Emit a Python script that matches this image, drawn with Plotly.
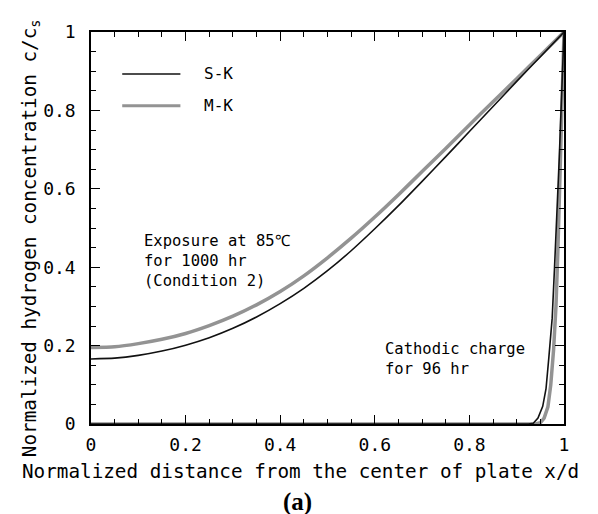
import plotly.graph_objects as go

# Exposure at 85C for 1000 hr (Condition 2)
x_exp = [0.0, 0.05, 0.1, 0.15, 0.2, 0.25, 0.3, 0.35, 0.4, 0.45, 0.5,
         0.55, 0.6, 0.65, 0.7, 0.75, 0.8, 0.85, 0.9, 0.95, 1.0]
sk_exp = [0.166, 0.168, 0.175, 0.186, 0.201, 0.220, 0.244, 0.273, 0.307, 0.346, 0.391,
          0.442, 0.498, 0.557, 0.619, 0.682, 0.746, 0.810, 0.874, 0.937, 1.0]
mk_exp = [0.195, 0.197, 0.205, 0.216, 0.231, 0.251, 0.275, 0.304, 0.338, 0.378, 0.424,
          0.474, 0.528, 0.585, 0.644, 0.703, 0.763, 0.822, 0.881, 0.940, 1.0]

# Cathodic charge for 96 hr
x_cat_sk = [0.0, 0.925, 0.935, 0.945, 0.955, 0.962, 0.968, 0.975, 0.980, 0.986, 0.990, 0.995, 1.0]
sk_cat = [0.0, 0.0, 0.002, 0.015, 0.045, 0.090, 0.170, 0.270, 0.400, 0.550, 0.680, 0.840, 1.0]
x_cat_mk = [0.0, 0.940, 0.950, 0.958, 0.966, 0.972, 0.978, 0.983, 0.987, 0.991, 0.995, 1.0]
mk_cat = [0.0, 0.0, 0.003, 0.015, 0.044, 0.100, 0.190, 0.300, 0.440, 0.600, 0.780, 1.0]

series_names = ["S-K", "M-K"]
x_ticks = [0, 0.2, 0.4, 0.6, 0.8, 1]
x_tick_labels = ["0", "0.2", "0.4", "0.6", "0.8", "1"]
y_ticks = [0, 0.2, 0.4, 0.6, 0.8, 1]
y_tick_labels = ["0", "0.2", "0.4", "0.6", "0.8", "1"]

SK_COLOR = "#111111"
MK_COLOR = "#939393"
MONO = "DejaVu Sans Mono"

fig = go.Figure()
fig.add_trace(go.Scatter(x=x_exp, y=mk_exp, mode="lines", name=series_names[1],
                         line=dict(color=MK_COLOR, width=3.5, shape="spline", smoothing=0.6),
                         showlegend=False))
fig.add_trace(go.Scatter(x=x_cat_mk, y=mk_cat, mode="lines", name=series_names[1],
                         line=dict(color=MK_COLOR, width=3.5), showlegend=False))
fig.add_trace(go.Scatter(x=x_exp, y=sk_exp, mode="lines", name=series_names[0],
                         line=dict(color=SK_COLOR, width=1.6, shape="spline", smoothing=0.6),
                         showlegend=False))
fig.add_trace(go.Scatter(x=x_cat_sk, y=sk_cat, mode="lines", name=series_names[0],
                         line=dict(color=SK_COLOR, width=1.6), showlegend=False))

axis_common = dict(
    showgrid=False, zeroline=False, showline=True, linecolor="black", linewidth=1.5,
    mirror="ticks", ticks="inside", ticklen=9, tickwidth=1.3, tickcolor="black",
    minor=dict(dtick=0.05, tick0=0, ticks="inside", ticklen=5, tickwidth=1, tickcolor="black"),
    tickfont=dict(family=MONO, size=18, color="black"),
)

fig.update_xaxes(range=[0, 1], tickvals=x_ticks, ticktext=x_tick_labels,
                 ticklabelstandoff=4, **axis_common)
fig.update_yaxes(range=[0, 1], tickvals=y_ticks, ticktext=y_tick_labels,
                 ticklabelstandoff=10, **axis_common)

# Axis titles as annotations (centred like the reference)
fig.add_annotation(text="Normalized distance from the center of plate x/d", xref="paper", yref="paper",
                   x=0.442, y=-0.122, xanchor="center", yanchor="middle", showarrow=False,
                   font=dict(family=MONO, size=19.3, color="black"))
fig.add_annotation(text="Normalized hydrogen concentration c/c<sub>s</sub>", xref="paper", yref="paper",
                   x=-0.129, y=0.474, xanchor="center", yanchor="middle", showarrow=False,
                   textangle=-90, font=dict(family=MONO, size=19.3, color="black"))

# Legend (manual, to match sample length)
legend_items = [(series_names[0], SK_COLOR, 1.6, 0.893), (series_names[1], MK_COLOR, 3.0, 0.812)]
for name, col, w, yy in legend_items:
    fig.add_shape(type="line", xref="paper", yref="paper", x0=0.066, x1=0.189, y0=yy, y1=yy,
                  line=dict(color=col, width=w))
    fig.add_annotation(text=name, xref="paper", yref="paper", x=0.235, y=yy, xanchor="left",
                       yanchor="middle", showarrow=False,
                       font=dict(family=MONO, size=16, color="black"))

fig.add_annotation(text="Exposure at 85℃<br>for 1000 hr<br>(Condition 2)", xref="paper", yref="paper",
                   x=0.107, y=0.495, xanchor="left", yanchor="top", align="left", showarrow=False,
                   font=dict(family=MONO, size=15.5, color="black"))
fig.add_annotation(text="Cathodic charge<br>for 96 hr", xref="paper", yref="paper",
                   x=0.617, y=0.22, xanchor="left", yanchor="top", align="left", showarrow=False,
                   font=dict(family=MONO, size=15.5, color="black"))
fig.add_annotation(text="<b>(a)</b>", xref="paper", yref="paper", x=0.4376, y=-0.2,
                   xanchor="center", yanchor="middle", showarrow=False,
                   font=dict(family="Liberation Serif", size=25, color="black"))

fig.update_layout(
    width=598, height=514,
    margin=dict(l=91, r=34, t=32, b=90),
    paper_bgcolor="white", plot_bgcolor="white",
    showlegend=False,
)

fig.write_html("out.html")
